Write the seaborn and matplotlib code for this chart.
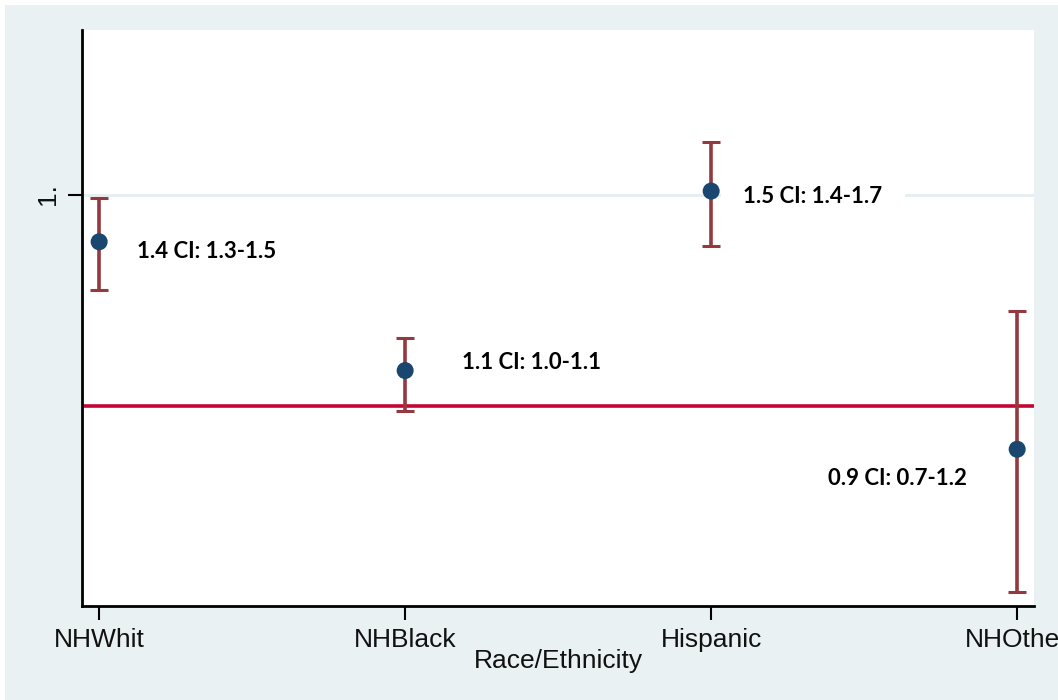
import numpy as np
import pandas as pd
import matplotlib
matplotlib.use("Agg")
import matplotlib.pyplot as plt
import seaborn as sns
from matplotlib.patches import Rectangle

# ---- data ----
categories = ["NHWhit", "NHBlack", "Hispanic", "NHOther"]
estimate = [1.37, 1.07, 1.51, 0.92]
ci_low = [1.25, 0.99, 1.36, 0.70]
ci_high = [1.49, 1.14, 1.66, 1.20]
point_labels = ["1.4 CI: 1.3-1.5", "1.1 CI: 1.0-1.1", "1.5 CI: 1.4-1.7", "0.9 CI: 0.7-1.2"]
y_ticks = [1.5]
y_ticklabels = ["1."]
reference_value = 1.0
x_title = "Race/Ethnicity"

df = pd.DataFrame({"group": categories, "est": estimate, "lo": ci_low, "hi": ci_high,
                   "label": point_labels})

sns.set_theme(style="white")
plt.rcParams["font.family"] = ["Liberation Sans", "DejaVu Sans"]

BG = "#eaf1f3"
fig = plt.figure(figsize=(10.58, 7.0), dpi=100, facecolor="white")
fig.patches.append(Rectangle((5 / 1058, 0), 1, 1 - 5 / 700, transform=fig.transFigure,
                             facecolor=BG, edgecolor="none", zorder=-10))
ax = fig.add_axes([82 / 1058, 1 - 606 / 700, (1034 - 82) / 1058, (606 - 30) / 700])
ax.set_facecolor("white")

ax.set_yscale("log")
ax.set_ylim(0.681, 2.057)
ax.set_xlim(-0.056, 3.055)

# gridline at tick
for t in y_ticks:
    ax.axhline(t, color="#e6eef1", lw=2, zorder=0)

# reference line
ax.axhline(reference_value, color="#c40535", lw=2.6, zorder=1)

xpos = np.arange(len(df))
ax.errorbar(xpos, df["est"], yerr=[df["est"] - df["lo"], df["hi"] - df["est"]],
            fmt="none", ecolor="#93393f", elinewidth=2.6, capsize=6.5, capthick=2.2, zorder=2)

sns.scatterplot(data=df, x="group", y="est", ax=ax, color="#1a476f", s=150,
                edgecolor="none", zorder=3, legend=False)

# point labels (offsets in pixels relative to each point)
offsets = [(38, -10, "left"), (57, 8, "left"), (32, -5, "left"), (-50, -29, "right")]
for i, (dx, dy, ha) in enumerate(offsets):
    ax.annotate(df["label"][i], (xpos[i], df["est"][i]), xytext=(dx, dy),
                textcoords="offset pixels", ha=ha, va="center", fontsize=16,
                fontweight="bold", family=["Lato", "DejaVu Sans"], color="#000000",
                bbox=dict(boxstyle="square,pad=1.0", facecolor="white", edgecolor="none"),
                zorder=4)

ax.set_xticks(xpos)
ax.set_xticklabels(categories, fontsize=19)
ax.set_yticks(y_ticks)
ax.set_yticklabels(y_ticklabels, fontsize=19, rotation=90, va="center")
ax.yaxis.set_minor_locator(matplotlib.ticker.NullLocator())
ax.tick_params(axis="both", which="major", length=10, width=1.5, color="black",
               left=True, bottom=True, pad=6, labelcolor="#111111")
ax.set_xlabel(x_title, fontsize=19, labelpad=-2, color="#111111")
ax.set_ylabel("")

for side in ["top", "right"]:
    ax.spines[side].set_visible(False)
for side in ["left", "bottom"]:
    ax.spines[side].set_color("black")
    ax.spines[side].set_linewidth(2)

fig.savefig("out.png", dpi=100, facecolor=fig.get_facecolor())
